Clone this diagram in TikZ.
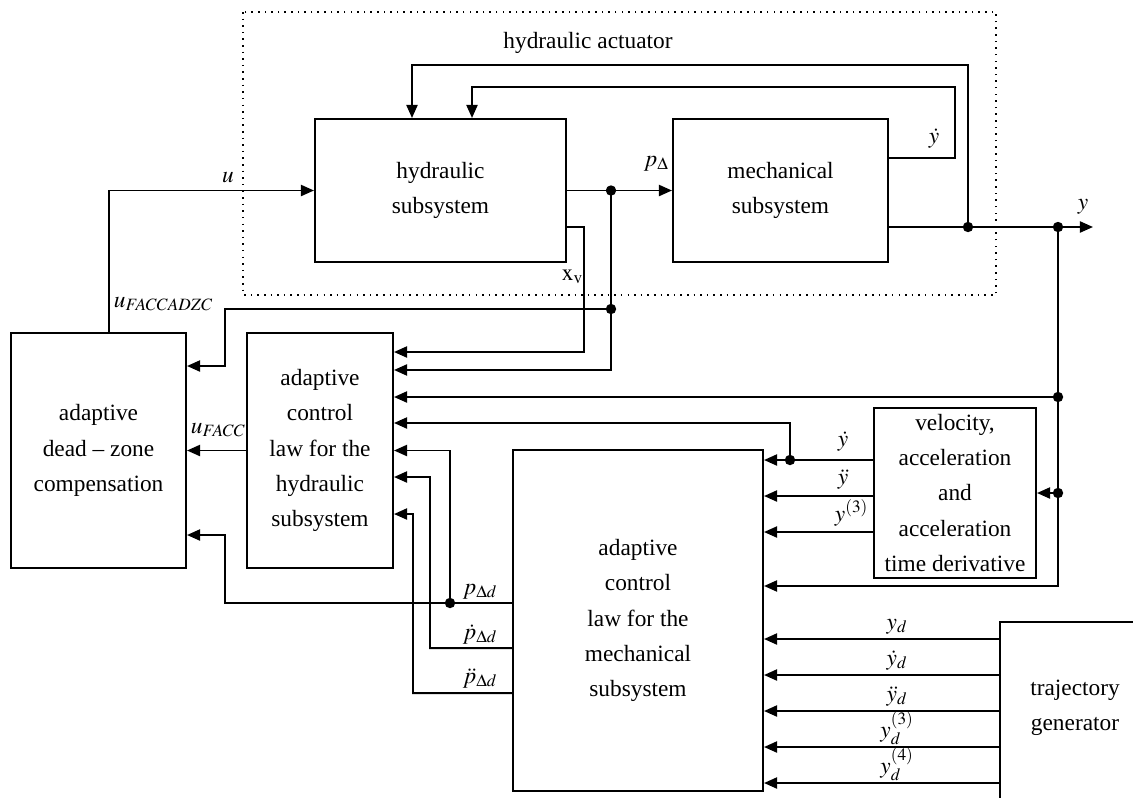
\documentclass[tikz,border=0pt]{standalone}
\usepackage{mathptmx}
\usepackage{fontspec}
\setmainfont{Liberation Serif}
\usetikzlibrary{arrows.meta}
\newcommand{\bodyfont}{\fontsize{16.6}{25}\selectfont}

\begin{document}
\begin{tikzpicture}[x=0.025cm, y=-0.025cm, line width=1.4pt,
    block/.style={draw, inner sep=0pt, align=center, font=\bodyfont},
    lbl/.style={inner sep=0pt, font=\bodyfont},
    arr/.style={-{Triangle[length=3.3mm,width=2.8mm]}}]
    \useasboundingbox (0,0) rectangle (1133,798);

    % hydraulic actuator
    \draw[line width=1.1pt, dash pattern=on 1.1pt off 3.6pt] (243,12) rectangle (996,295);
    \node[lbl] (act) at (588,43) {hydraulic actuator};
    \node[block, minimum width=6.275cm, minimum height=3.575cm] (hyd) at (440.5,190.5) {hydraulic\\subsystem};
    \node[block, minimum width=5.375cm, minimum height=3.575cm] (mech) at (780.5,190.5) {mechanical\\subsystem};

    % control laws
    \node[block, minimum width=4.375cm, minimum height=5.875cm] (dzc) at (98.5,450.5) {adaptive\\dead – zone\\compensation};
    \node[block, minimum width=3.65cm, minimum height=5.875cm] (hlaw) at (320,450.5) {adaptive\\control\\law for the\\hydraulic\\subsystem};
    \node[block, minimum width=6.25cm, minimum height=8.525cm] (mlaw) at (638,620.5) {adaptive\\control\\law for the\\mechanical\\subsystem};
    \node[block, minimum width=4.05cm, minimum height=4.25cm] (vel) at (955,493) {velocity,\\acceleration\\and\\acceleration\\time derivative};
    \node[lbl, align=center] (traj) at (1075,708) {trajectory\\generator};
    \draw (1133,622) -| (1000,798);

    % junctions
    \coordinate (jp) at (611,190.5);
    \coordinate (jp2) at (611,309);
    \coordinate (jy1) at (968,227);
    \coordinate (jy2) at (1058,227);
    \coordinate (jy3) at (1058,397);
    \coordinate (jy4) at (1058,493);
    \coordinate (jyd) at (790,460);
    \coordinate (jpd) at (450,603);
    \coordinate (yout) at (1093,227);

    % actuator loop
    \draw[arr] ([xshift=0.2625cm]dzc.north) |- (hyd.west);
    \draw[arr] (hyd.east) -- (mech.west);
    \draw[arr] (mech.east |- yout) -- (yout);
    \draw[arr] (jy1) -- (968,65) -| ([xshift=-0.7125cm]hyd.north);
    \draw[arr] ([yshift=0.8125cm]mech.east) -| (955,87) -| ([xshift=0.7875cm]hyd.north);

    % feedback to the hydraulic law
    \draw[arr] ([yshift=-0.9125cm]hyd.east) -| (584,352) coordinate (xv) -- (xv -| hlaw.east);
    \draw[arr] (jp) |- ([yshift=2.0125cm]hlaw.east);
    \draw[arr] (jp2) -| (225,366) coordinate (pz) -- (pz -| dzc.east);
    \draw[arr] (jy2) |- ([yshift=0.8625cm]mlaw.east);
    \draw[arr] (jy3) -- (jy3 -| hlaw.east);
    \draw[arr] (jy4) -- (vel.east);
    \draw[arr] ([yshift=0.825cm]vel.west) -- (mlaw.east |- jyd);
    \draw[arr] (jyd) |- ([yshift=0.6875cm]hlaw.east);
    \draw[arr] ([yshift=-0.075cm]vel.west) coordinate (v2) -- (v2 -| mlaw.east);
    \draw[arr] ([yshift=-0.975cm]vel.west) coordinate (v3) -- (v3 -| mlaw.east);

    % reference signals
    \foreach \yy/\lab in {639/{y_d}, 675/{\dot{y}_d}, 711/{\ddot{y}_d}, 747/{y_d^{(3)}}, 783/{y_d^{(4)}}} {
        \draw[arr] (1000,\yy) coordinate (t) -- (t -| mlaw.east);
        \node[lbl, anchor=base] (lt\yy) at (897,\yy-10) {$\lab$};
    }

    % desired pressure and derivatives
    \draw[arr] ([yshift=0.4375cm]mlaw.west) -| (225,535) coordinate (pq) -- (pq -| dzc.east);
    \draw[arr] (jpd) |- (hlaw.east);
    \draw[arr] ([yshift=-0.6875cm]mlaw.west) -| (430,477) -- ([yshift=-0.6625cm]hlaw.east);
    \draw[arr] ([yshift=-1.8125cm]mlaw.west) -| (413,514) -- ([yshift=-1.5875cm]hlaw.east);
    \draw[arr] (hlaw.west) -- (dzc.east);

    \foreach \j in {jp,jp2,jy1,jy2,jy3,jy4,jyd,jpd} \fill (\j) circle (3.7pt);

    % labels
    \node[lbl, anchor=base] (lu) at (228,182) {$u$};
    \node[lbl, anchor=base west] (lufz) at (113,307) {$u_{FACCADZC}$};
    \node[lbl, anchor=base west] (lufc) at (190,433) {$u_{FACC}$};
    \node[lbl, anchor=base west] (lpD) at (643,166) {$p_{\Delta}$};
    \node[lbl, anchor=base west] (lxv) at (561,280) {$\mathrm{x}_{\mathrm{v}}$};
    \node[lbl, anchor=base west] (lyd) at (928,143) {$\dot{y}$};
    \node[lbl, anchor=base west] (ly) at (1077,209) {$y$};
    \node[lbl, anchor=base west] (lvd) at (837,446) {$\dot{y}$};
    \node[lbl, anchor=base west] (lvdd) at (837,484) {$\ddot{y}$};
    \node[lbl, anchor=base west] (lv3) at (834,521) {$y^{(3)}$};
    \node[lbl, anchor=base west] (lpd) at (462,594) {$p_{\Delta d}$};
    \node[lbl, anchor=base west] (lpdd) at (462,639) {$\dot{p}_{\Delta d}$};
    \node[lbl, anchor=base west] (lpddd) at (462,683) {$\ddot{p}_{\Delta d}$};
\end{tikzpicture}
\end{document}
